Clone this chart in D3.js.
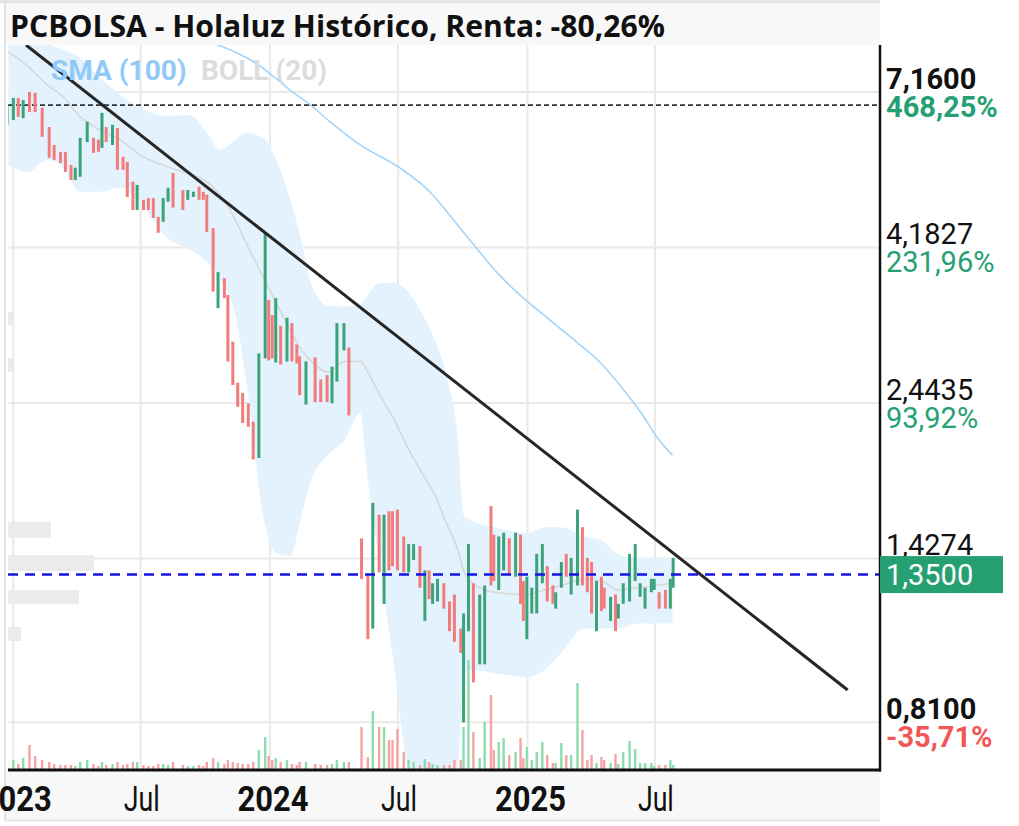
<!DOCTYPE html>
<html><head><meta charset="utf-8">
<script src="https://cdn.jsdelivr.net/npm/d3@7"></script>
<style>body{margin:0;background:#fff}svg{display:block}</style>
</head><body>
<svg id="chart" width="1019" height="826"></svg>
<script>
// ---------- DATA ----------
const title = "PCBOLSA - Holaluz Histórico, Renta: -80,26%";
const dates = ["2022-12-23","2023-01-01","2023-01-08","2023-01-15","2023-01-24","2023-02-01","2023-02-11","2023-02-21","2023-02-28","2023-03-09","2023-03-16","2023-03-24","2023-03-30","2023-04-06","2023-04-16","2023-04-25","2023-05-02","2023-05-07","2023-05-13","2023-05-22","2023-05-29","2023-06-06","2023-06-12","2023-06-20","2023-06-26","2023-07-05","2023-07-12","2023-07-19","2023-07-26","2023-08-02","2023-08-09","2023-08-16","2023-08-30","2023-09-06","2023-09-14","2023-09-22","2023-09-28","2023-10-03","2023-10-12","2023-10-19","2023-10-28","2023-11-02","2023-11-09","2023-11-16","2023-11-23","2023-12-01","2023-12-08","2023-12-16","2023-12-25","2023-12-30","2024-01-04","2024-01-09","2024-01-16","2024-01-25","2024-02-01","2024-02-08","2024-02-12","2024-02-21","2024-03-05","2024-03-13","2024-03-22","2024-03-29","2024-04-05","2024-04-15","2024-04-22",
"2024-05-10","2024-05-19","2024-05-26","2024-06-04","2024-06-11","2024-06-18","2024-06-23","2024-06-30","2024-07-09","2024-07-16","2024-07-23","2024-08-01","2024-08-08","2024-08-14","2024-08-19","2024-08-26","2024-09-04","2024-09-12","2024-09-19","2024-09-28","2024-10-02","2024-10-09","2024-10-16","2024-10-25","2024-11-01","2024-11-10","2024-11-14","2024-11-21","2024-11-28","2024-12-06","2024-12-15","2024-12-22","2024-12-26","2024-12-31","2025-01-07","2025-01-14","2025-01-22","2025-01-29","2025-02-06","2025-02-10","2025-02-18","2025-02-25","2025-03-04","2025-03-13","2025-03-20","2025-03-27","2025-04-02","2025-04-09","2025-04-16","2025-04-20","2025-04-29","2025-05-06","2025-05-10","2025-05-17","2025-05-26","2025-06-03","2025-06-10","2025-06-17","2025-06-26","2025-06-30","2025-07-07","2025-07-16","2025-07-23","2025-07-27"];
const opens = [6.39,6.50,7.01,6.54,7.16,7.14,6.78,6.34,5.96,5.82,5.82,5.56,5.28,5.34,6.02,6.11,6.07,5.90,6.34,5.96,6.32,5.72,5.62,5.25,4.76,4.93,4.96,4.96,4.65,4.57,4.90,5.41,5.10,4.93,4.98,5.16,5.07,5.02,4.47,3.39,3.76,3.55,3.02,2.62,2.53,2.44,2.29,2.02,2.85,3.49,3.31,2.81,3.19,2.82,3.22,2.99,2.87,2.43,2.86,2.65,2.69,2.44,2.63,2.93,2.96,
1.53,1.35,1.12,1.66,1.22,1.68,1.68,1.69,1.54,1.36,1.42,1.49,1.15,1.37,1.22,1.23,1.31,1.23,1.26,1.12,0.81,1.11,1.31,0.99,0.99,1.71,1.55,1.28,1.37,1.53,1.34,1.55,1.32,1.08,1.18,1.18,1.31,1.39,1.30,1.20,1.29,1.45,1.26,1.30,1.59,1.43,1.41,1.11,1.34,1.29,1.15,1.26,1.16,1.22,1.23,1.32,1.25,1.20,1.27,1.28,1.27,1.28,1.20,1.29];
const highs = [6.85,7.01,7.01,6.96,7.16,7.14,6.78,6.34,5.96,5.82,5.82,5.56,5.51,6.11,6.46,6.11,6.07,6.66,6.34,6.39,6.32,5.72,5.62,5.25,5.19,4.93,4.96,4.96,4.65,4.96,5.14,5.41,5.10,5.10,5.07,5.16,5.07,5.02,4.47,3.84,3.76,3.55,3.02,2.62,2.53,2.44,2.29,2.90,4.41,3.49,3.31,3.51,3.19,3.28,3.22,2.99,2.87,2.82,2.86,2.65,2.69,2.77,3.22,3.22,2.96,
1.53,1.35,1.73,1.66,1.66,1.68,1.68,1.69,1.54,1.50,1.50,1.49,1.37,1.37,1.31,1.33,1.31,1.23,1.26,1.12,1.18,1.50,1.31,1.26,1.30,1.71,1.55,1.54,1.56,1.53,1.56,1.55,1.32,1.34,1.29,1.45,1.50,1.39,1.30,1.27,1.41,1.45,1.43,1.69,1.59,1.43,1.41,1.32,1.34,1.29,1.25,1.26,1.22,1.31,1.45,1.50,1.31,1.29,1.33,1.33,1.27,1.28,1.33,1.43];
const lows = [6.39,6.50,6.57,6.54,6.68,6.68,6.13,5.70,5.66,5.60,5.43,5.28,5.28,5.34,6.02,5.80,5.82,5.90,6.02,5.96,5.47,5.47,4.98,4.76,4.76,4.76,4.76,4.63,4.40,4.57,4.90,4.80,4.76,4.93,4.98,4.93,4.93,4.41,3.59,3.39,3.51,2.82,2.60,2.41,2.28,2.25,2.01,2.02,2.85,2.83,2.85,2.81,2.79,2.82,2.82,2.80,2.51,2.43,2.45,2.45,2.45,2.44,2.63,2.93,2.34,
1.33,1.08,1.12,1.36,1.22,1.37,1.39,1.37,1.36,1.36,1.42,1.29,1.15,1.24,1.22,1.23,1.20,1.11,1.07,1.03,0.81,1.11,0.93,0.99,0.99,1.30,1.32,1.28,1.37,1.35,1.34,1.22,1.15,1.08,1.18,1.18,1.31,1.23,1.22,1.20,1.29,1.34,1.26,1.30,1.30,1.27,1.18,1.11,1.19,1.20,1.15,1.11,1.16,1.22,1.23,1.32,1.25,1.20,1.27,1.28,1.20,1.20,1.20,1.29];
const closes = [6.85,7.01,6.57,6.96,6.68,6.68,6.13,5.70,5.66,5.60,5.43,5.28,5.51,6.11,6.46,5.80,5.82,6.66,6.02,6.39,5.47,5.47,4.98,4.76,5.19,4.76,4.76,4.63,4.40,4.96,5.14,4.80,4.76,5.10,5.07,4.93,4.93,4.41,3.59,3.84,3.51,2.82,2.60,2.41,2.28,2.25,2.01,2.90,4.41,2.83,2.85,3.51,2.79,3.28,2.82,2.80,2.51,2.82,2.45,2.45,2.45,2.77,3.22,3.22,2.34,
1.33,1.08,1.73,1.36,1.66,1.37,1.39,1.37,1.36,1.50,1.50,1.29,1.37,1.24,1.31,1.33,1.20,1.11,1.07,1.03,1.18,1.50,0.93,1.26,1.30,1.30,1.32,1.54,1.56,1.35,1.56,1.22,1.15,1.34,1.29,1.45,1.50,1.23,1.22,1.27,1.41,1.34,1.43,1.69,1.30,1.27,1.18,1.32,1.19,1.20,1.25,1.11,1.22,1.31,1.45,1.50,1.31,1.29,1.33,1.33,1.20,1.20,1.33,1.35];
// volume, thousands of shares
const volumes = [8,10,6,12,25,14,10,8,6,5,5,5,4,8,10,6,4,8,5,6,8,5,6,8,8,5,4,4,6,6,5,8,5,4,4,5,4,8,12,8,6,10,8,7,6,6,8,20,33,14,10,12,8,10,6,5,8,8,6,5,5,6,10,8,8,
43,13,59,43,43,30,30,41,18,10,8,5,11,8,6,5,5,5,10,10,43,110,38,12,48,75,20,28,32,15,18,32,12,23,10,18,28,15,7,7,27,15,15,87,40,10,15,7,13,10,7,16,6,18,29,21,7,7,7,4,5,5,10,5];

// Bollinger (20)
const bollDates = ["2022-12-25","2023-01-21","2023-02-18","2023-03-13","2023-04-06","2023-05-04","2023-06-02","2023-06-30","2023-08-08","2023-09-09","2023-10-03","2023-10-22","2023-11-09","2023-11-29","2023-12-22","2024-01-11","2024-01-29","2024-02-15","2024-02-29","2024-03-23","2024-04-16","2024-05-08","2024-05-19","2024-06-05","2024-06-26","2024-07-15","2024-08-01","2024-08-22","2024-09-09","2024-09-24","2024-10-02","2024-10-11","2024-11-15","2025-01-01","2025-01-25","2025-02-18","2025-03-23","2025-04-16","2025-05-09","2025-06-06","2025-06-30","2025-07-26"];
const bollUpper = [8.63,8.57,8.45,8.28,8.05,7.52,7.09,6.78,6.59,6.61,6.21,5.86,6.02,6.21,6.11,5.62,4.96,4.26,3.67,3.42,3.41,3.43,3.55,3.70,3.70,3.59,3.37,3.04,2.65,2.15,1.66,1.63,1.59,1.56,1.59,1.59,1.54,1.52,1.45,1.43,1.43,1.42];
const bollLower = [5.56,5.43,5.66,5.51,5.07,5.07,5.14,4.88,4.32,4.15,3.98,3.74,3.43,2.60,1.66,1.45,1.44,1.66,1.88,2.04,2.15,2.36,1.87,1.40,0.97,0.687,0.62,0.60,0.62,0.687,0.954,0.971,0.961,0.947,0.971,1.03,1.12,1.12,1.12,1.14,1.14,1.14];
const bollMid = [8.22,7.83,7.34,7.04,6.57,6.28,6.07,5.76,5.53,5.39,5.25,5.02,4.68,4.22,3.78,3.43,3.15,2.93,2.82,2.72,2.82,2.82,2.72,2.51,2.30,2.09,1.94,1.78,1.60,1.47,1.37,1.32,1.27,1.26,1.28,1.30,1.33,1.32,1.28,1.29,1.30,1.31];

// SMA (100)
const smaDates = ["2023-10-15","2023-11-12","2023-12-11","2024-01-08","2024-01-29","2024-02-27","2024-03-26","2024-05-08","2024-07-03","2024-08-15","2024-09-12","2024-10-11","2024-11-22","2024-12-21","2025-02-01","2025-03-16","2025-04-13","2025-05-12","2025-06-09","2025-07-07","2025-07-26"];
const smaValues = [8.45,8.22,7.92,7.52,7.21,6.85,6.46,5.96,5.51,5.07,4.68,4.29,3.80,3.55,3.26,2.99,2.82,2.60,2.38,2.15,2.04];

// trend line (two anchor points)
const trendDates = ["2023-01-19","2026-04-01"];
const trendValues = [8.42,0.906];

const startPrice = 6.84;      // dashed black reference
const lastPrice = 1.35;       // current price
const lastPriceLabel = "1,3500";

const yTicks = [7.16, 4.1827, 2.4435, 1.4274, 0.81];
const yTickLabels = ["7,1600","4,1827","2,4435","1,4274","0,8100"];
const yTickPct = ["468,25%","231,96%","93,92%","","-35,71%"];
const yTickBold = [true,false,false,false,true];

const xTickDates = ["2023-01-01","2023-07-01","2024-01-01","2024-07-01","2025-01-01","2025-07-01"];
const xTickLabels = ["2023","Jul","2024","Jul","2025","Jul"];
const xTickBold = [true,false,true,false,true,false];

const legendItems = ["SMA (100)","BOLL (20)"];

// faint blurred overlay blocks at the left edge (price top, price bottom, width px)
const ghostBlocks = [[1.619,1.532,45],[1.444,1.367,88],[1.280,1.220,73],[1.126,1.073,15],[3.347,3.200,8],[2.854,2.719,7]];

// ---------- CHART ----------
const svg = d3.select("#chart");
const L = 8, R = 880, T = 45, B = 770;
const parse = d3.utcParse("%Y-%m-%d");
const x = d3.scaleUtc().domain([parse("2022-12-24"), parse("2026-05-17")]).range([7.7, 880]);
const y = d3.scaleLog().domain([0.687, 8.42]).range([B, T]);
const yv = d3.scaleLinear().domain([0, 120]).range([B, B - 120]);

const GREEN = "#3aa37a", RED = "#f27b7b";
const VGREEN = "#8ddcb0", VRED = "#f7a3a3";

// frame / backgrounds
svg.append("rect").attr("x",0).attr("y",0).attr("width",1019).attr("height",826).attr("fill","#fff");
svg.append("rect").attr("x",4).attr("y",3).attr("width",R-4).attr("height",T-3).attr("fill","#f8f8f8");
svg.append("rect").attr("x",4).attr("y",B).attr("width",R-4).attr("height",50).attr("fill","#f8f8f8");
svg.append("line").attr("x1",0).attr("x2",R).attr("y1",1.5).attr("y2",1.5).attr("stroke","#e4e4e4").attr("stroke-width",3);
svg.append("line").attr("x1",5).attr("x2",5).attr("y1",0).attr("y2",821).attr("stroke","#e2e2e2").attr("stroke-width",2);
svg.append("line").attr("x1",4).attr("x2",R).attr("y1",820.5).attr("y2",820.5).attr("stroke","#e4e4e4").attr("stroke-width",2);

svg.append("defs").append("clipPath").attr("id","plot")
  .append("rect").attr("x",L).attr("y",T).attr("width",R-L).attr("height",B-T);
const g = svg.append("g").attr("clip-path","url(#plot)");

// grid
g.selectAll("line.hg").data(yTicks).join("line").attr("class","hg")
  .attr("x1",L).attr("x2",R).attr("y1",d=>y(d)).attr("y2",d=>y(d))
  .attr("stroke","#e9e9e9").attr("stroke-width",2);
g.selectAll("line.vg").data(xTickDates).join("line").attr("class","vg")
  .attr("x1",d=>x(parse(d))).attr("x2",d=>x(parse(d))).attr("y1",T).attr("y2",B)
  .attr("stroke","#e9e9e9").attr("stroke-width",2);

// Bollinger band
const boll = bollDates.map((d,i)=>({d:parse(d),u:bollUpper[i],l:bollLower[i],m:bollMid[i]}));
g.append("path").datum(boll)
  .attr("d", d3.area().curve(d3.curveMonotoneX).x(d=>x(d.d)).y0(d=>y(d.l)).y1(d=>y(d.u)))
  .attr("fill","#e3f2fd");

// volume
const candles = dates.map((d,i)=>({d:parse(d),o:opens[i],h:highs[i],l:lows[i],c:closes[i],v:volumes[i]}));
g.selectAll("rect.vol").data(candles).join("rect").attr("class","vol")
  .attr("x",d=>x(d.d)-1.2).attr("width",2.4)
  .attr("y",d=>yv(d.v)).attr("height",d=>B-yv(d.v))
  .attr("fill",d=>d.c>=d.o?VGREEN:VRED);

// mid line & SMA
g.append("path").datum(boll)
  .attr("d", d3.line().curve(d3.curveMonotoneX).x(d=>x(d.d)).y(d=>y(d.m)))
  .attr("fill","none").attr("stroke","#d6d6d6").attr("stroke-width",1.5);
const sma = smaDates.map((d,i)=>({d:parse(d),v:smaValues[i]}));
g.append("path").datum(sma)
  .attr("d", d3.line().curve(d3.curveMonotoneX).x(d=>x(d.d)).y(d=>y(d.v)))
  .attr("fill","none").attr("stroke","#a5d4f7").attr("stroke-width",1.6);

// ghost blocks
g.selectAll("rect.ghost").data(ghostBlocks).join("rect").attr("class","ghost")
  .attr("x",L-2).attr("width",d=>d[2])
  .attr("y",d=>y(d[0])).attr("height",d=>y(d[1])-y(d[0]))
  .attr("fill","#ebebeb");

// start price dashed
g.append("line").attr("x1",L).attr("x2",R).attr("y1",y(startPrice)).attr("y2",y(startPrice))
  .attr("stroke","#333").attr("stroke-width",1.6).attr("stroke-dasharray","5,3");

// candles
g.selectAll("line.cdl").data(candles).join("line").attr("class","cdl")
  .attr("x1",d=>x(d.d)).attr("x2",d=>x(d.d))
  .attr("y1",d=>y(d.h)).attr("y2",d=>y(d.l))
  .attr("stroke",d=>d.c>=d.o?GREEN:RED).attr("stroke-width",3);

// trend line
g.append("line")
  .attr("x1",x(parse(trendDates[0]))).attr("y1",y(trendValues[0]))
  .attr("x2",x(parse(trendDates[1]))).attr("y2",y(trendValues[1]))
  .attr("stroke","#262626").attr("stroke-width",3);

// last price dashed
g.append("line").attr("x1",L).attr("x2",R).attr("y1",y(lastPrice)).attr("y2",y(lastPrice))
  .attr("stroke","#1414e6").attr("stroke-width",2.6).attr("stroke-dasharray","10,7");

// axes lines
svg.append("line").attr("x1",R).attr("x2",R).attr("y1",T).attr("y2",B+1.5).attr("stroke","#111").attr("stroke-width",2.5);
svg.append("line").attr("x1",L).attr("x2",R+1).attr("y1",B).attr("y2",B).attr("stroke","#111").attr("stroke-width",3);

// right labels
const rl = svg.append("g").attr("font-family","Roboto, sans-serif").attr("font-size",29);
yTicks.forEach((v,i)=>{
  const yy = y(v);
  rl.append("text").attr("x",886).attr("y",yy-3).text(yTickLabels[i])
    .attr("font-weight",yTickBold[i]?"bold":"normal").attr("fill","#111");
  if (yTickPct[i]) {
    rl.append("text").attr("x",886).attr("y",yy+25).text(yTickPct[i])
      .attr("font-weight",yTickBold[i]?"bold":"normal")
      .attr("fill", yTickPct[i].startsWith("-")?"#f25757":"#26a073");
  }
});
// current price box
rl.append("rect").attr("x",R).attr("y",y(lastPrice)-18.5).attr("width",123).attr("height",37).attr("fill","#26a073");
rl.append("text").attr("x",886).attr("y",y(lastPrice)+10.5).text(lastPriceLabel).attr("fill","#fff");

// bottom labels
const bl = svg.append("g").attr("font-family","Roboto, sans-serif").attr("font-size",35);
xTickDates.forEach((d,i)=>{
  const w = xTickBold[i]?71:36;
  bl.append("text").attr("x",x(parse(d))+(xTickBold[i]?3:1)).attr("y",811)
    .attr("text-anchor","middle").attr("font-weight",xTickBold[i]?"bold":"normal")
    .attr("textLength",w).attr("lengthAdjust","spacingAndGlyphs")
    .attr("fill","#111").text(xTickLabels[i]);
});

// title
svg.append("text").attr("x",10).attr("y",37).attr("font-family","'Open Sans', sans-serif")
  .attr("font-size",30).attr("font-weight","bold").attr("fill","#111")
  .attr("textLength",655).attr("lengthAdjust","spacingAndGlyphs").text(title);

// legend
svg.append("text").attr("x",51).attr("y",80).attr("font-family","Roboto, sans-serif")
  .attr("font-size",28).attr("font-weight","bold").attr("fill","#90caf9").text(legendItems[0]);
svg.append("text").attr("x",201).attr("y",80).attr("font-family","Roboto, sans-serif")
  .attr("font-size",28).attr("font-weight","bold").attr("fill","#dcdcdc").text(legendItems[1]);
</script>
</body></html>
